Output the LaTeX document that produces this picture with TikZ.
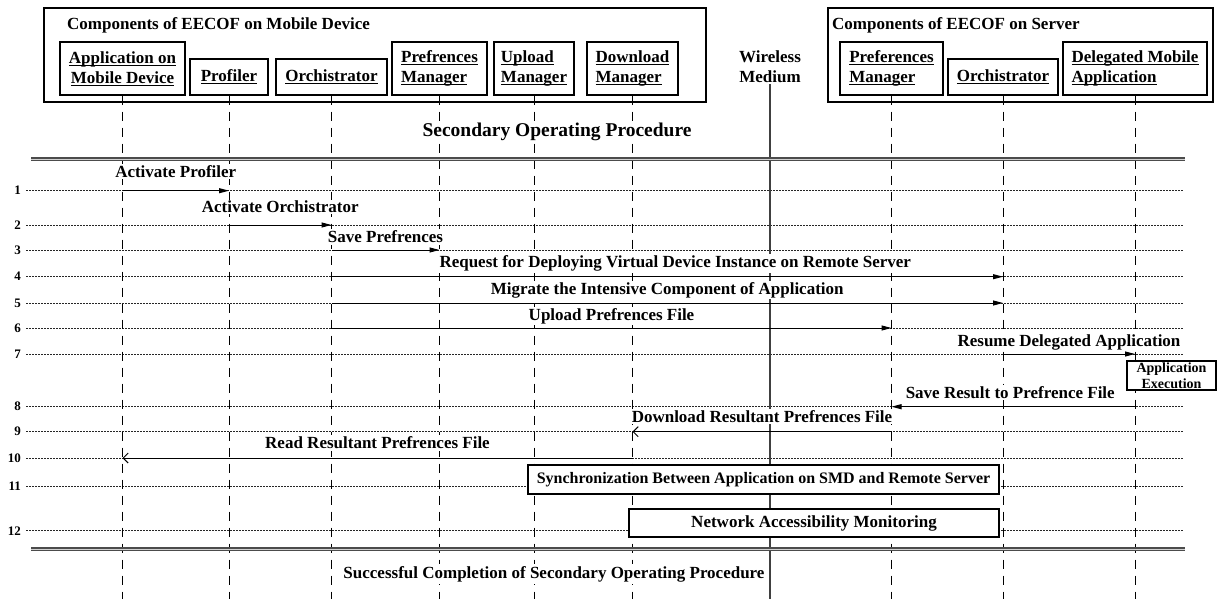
\documentclass[tikz,border=0pt]{standalone}
\usepackage{fontspec}
\setmainfont{Liberation Serif}
\usetikzlibrary{arrows.meta,calc}
\newcommand{\myul}[1]{\setbox0\hbox{#1}\rlap{\rule[-2.2pt]{\wd0}{0.9pt}}\box0}
\begin{document}
\begin{tikzpicture}[x=1pt,y=-1pt,
  every node/.style={font=\fontsize{17}{20}\selectfont\bfseries, text=black},
  box/.style={draw, line width=1.1pt, inner sep=0pt, align=left, minimum height=#1},
  cont/.style={draw, line width=1.1pt, inner sep=0pt},
  life/.style={line width=1pt, dash pattern=on 9pt off 7pt},
  rowline/.style={line width=0.8pt, dash pattern=on 2pt off 1pt, black!85},
  rownum/.style={anchor=east, inner sep=0pt, font=\fontsize{13}{15}\selectfont\bfseries},
  sep/.style={line width=1.2pt, draw=black!70, double=gray!35, double distance=0.8pt},
  msg/.style={line width=1pt, -{Triangle[length=10pt,width=5pt]}},
  ret/.style={line width=1pt, -{Straight Barb[length=5pt,width=10pt]}},
  lbl/.style={fill=white, inner sep=1.5pt},
  act/.style={draw, line width=1.1pt, fill=white, inner sep=0pt, align=center}]
\useasboundingbox (0,0) rectangle (1221,599);
\coordinate (bot) at (0,599);
\coordinate (rend) at (1183,0);

% containers
\node[cont, minimum width=662pt, minimum height=94pt] (mob) at (375,55) {};
\node[cont, minimum width=385pt, minimum height=94pt] (srv) at (1020.5,55) {};
\node[anchor=west, inner sep=0pt] (t1) at (67,25) {Components of EECOF on Mobile Device};
\node[anchor=west, inner sep=0pt] (t2) at (832,25) {Components of EECOF on Server};

% components
\node[box=53pt, minimum width=125pt, align=center] (app) at (122.5,68.5) {\myul{Application on}\\\myul{Mobile Device}};
\node[box=36pt, minimum width=78pt] (prof) at (229,77) {\myul{Profiler}};
\node[box=36pt, minimum width=111pt] (orc) at (331.5,77) {\myul{Orchistrator}};
\node[box=53pt, minimum width=95pt] (pm) at (439.5,68.5) {\myul{Prefrences}\\\myul{Manager}};
\node[box=53pt, minimum width=80pt] (um) at (534,68.5) {\myul{Upload}\\\myul{Manager}};
\node[box=53pt, minimum width=91pt] (dm) at (632.5,68.5) {\myul{Download}\\\myul{Manager}};
\node[box=53pt, minimum width=103pt] (spm) at (891.5,68.5) {\myul{Preferences}\\\myul{Manager}};
\node[box=36pt, minimum width=110pt] (sorc) at (1003,77) {\myul{Orchistrator}};
\node[box=53pt, minimum width=144pt] (dma) at (1135,68.5) {\myul{Delegated Mobile}\\\myul{Application}};

\node[align=center, inner sep=1pt] (wm) at (770,67) {Wireless\\Medium};

% row numbers
\foreach \i/\yy in {1/190.7,2/225,3/250,4/276.7,5/303,6/328,7/354,8/406.7,9/431.7,10/458,11/486.7,12/530.7}
  \node[rownum] (r\i) at (21,\yy) {\i};

% row lines
\foreach \i in {1,...,12}
  \draw[rowline] ([xshift=5pt]r\i.east) -- (rend |- r\i);

% lifelines
\foreach \n in {app,prof,orc,pm,um,dm,spm,sorc,dma}
  \draw[life] (\n.south) -- (\n.south |- bot);
\draw[line width=1.2pt, black!75] (wm.south) -- (wm.south |- bot);

% separators
\coordinate (s1a) at (31,159); \coordinate (s1b) at (1185,159);
\coordinate (s2a) at (31,549); \coordinate (s2b) at (1185,549);
\draw[sep] (s1a) -- (s1b);
\draw[sep] (s2a) -- (s2b);

\node[fill=white, inner sep=2pt, font=\fontsize{19.5}{22}\selectfont\bfseries] (sop) at (557,132) {Secondary Operating Procedure};
\node[fill=white, inner sep=2pt] (sc) at (554,574) {Successful Completion of Secondary Operating Procedure};

% messages
\draw[msg] (app |- r1) -- node[lbl, yshift=19.5pt] {Activate Profiler} (prof |- r1);
\draw[msg] (prof |- r2) -- node[lbl, yshift=18pt] {Activate Orchistrator} (orc |- r2);
\draw[msg] (orc |- r3) -- node[lbl, yshift=13pt] {Save Prefrences} (pm |- r3);
\draw[msg] (orc |- r4) -- node[lbl, yshift=13pt, xshift=8pt] {Request for Deploying Virtual Device Instance on Remote Server} (sorc |- r4);
\draw[msg] (orc |- r5) -- node[lbl, yshift=13pt] {Migrate the Intensive Component of Application} (sorc |- r5);
\draw[msg] (orc |- r6) -- node[lbl, yshift=12pt] {Upload Prefrences File} (spm |- r6);
\draw[msg] (sorc |- r7) -- node[lbl, yshift=12pt] {Resume Delegated Application} (dma |- r7);
\draw[msg] (dma |- r8) -- node[lbl, yshift=14pt, xshift=-3pt] {Save Result to Prefrence File} (spm |- r8);
\draw[ret] (spm |- r9) -- node[lbl, yshift=15pt] {Download Resultant Prefrences File} (dm |- r9);
\draw[ret] (dm |- r10) -- node[lbl, yshift=15pt] {Read Resultant Prefrences File} (app |- r10);

% activity boxes
\node[act, minimum width=89pt, minimum height=29pt, font=\fontsize{14}{15.5}\selectfont\bfseries] (ae) at (1171.5,375.5) {Application\\Execution};
\node[act, minimum width=471pt, minimum height=29pt, font=\fontsize{16}{18}\selectfont\bfseries] (sync) at (763.5,479.5) {Synchronization Between Application on SMD and Remote Server};
\node[act, minimum width=370pt, minimum height=28pt] (net) at (814,523) {Network Accessibility Monitoring};
\end{tikzpicture}
\end{document}
